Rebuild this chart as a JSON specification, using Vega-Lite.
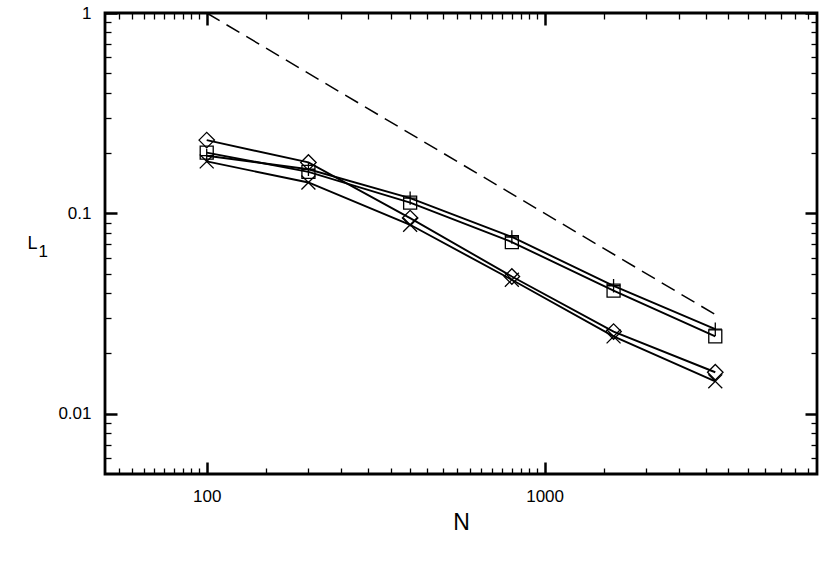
{
  "$schema": "https://vega.github.io/schema/vega-lite/v6.json",
  "width": 712,
  "height": 461,
  "autosize": {"type": "none"},
  "padding": {"left": 105, "top": 13, "right": 13, "bottom": 106},
  "background": "white",
  "config": {
    "view": {"stroke": "black", "strokeWidth": 2.8},
    "font": "Liberation Sans",
    "axis": {"grid": false, "domain": false, "tickColor": "black", "labelColor": "black", "titleColor": "black", "labelFont": "Liberation Sans", "titleFont": "Liberation Sans", "titleFontWeight": "normal", "labelOverlap": false, "labelFlush": false, "labelBound": false}
  },
  "datasets": {
    "ref": [
      {"N": 100, "L1": 1},
      {"N": 3200, "L1": 0.03125}
    ],
    "series": [
      {"series": "A", "N": 100, "L1": 0.232},
      {"series": "A", "N": 200, "L1": 0.1795},
      {"series": "A", "N": 400, "L1": 0.0947},
      {"series": "A", "N": 800, "L1": 0.0484},
      {"series": "A", "N": 1600, "L1": 0.0257},
      {"series": "A", "N": 3200, "L1": 0.0161},
      {"series": "B", "N": 100, "L1": 0.201},
      {"series": "B", "N": 200, "L1": 0.161},
      {"series": "B", "N": 400, "L1": 0.1132},
      {"series": "B", "N": 800, "L1": 0.0719},
      {"series": "B", "N": 1600, "L1": 0.0411},
      {"series": "B", "N": 3200, "L1": 0.0243},
      {"series": "C", "N": 100, "L1": 0.194},
      {"series": "C", "N": 200, "L1": 0.166},
      {"series": "C", "N": 400, "L1": 0.1192},
      {"series": "C", "N": 800, "L1": 0.0762},
      {"series": "C", "N": 1600, "L1": 0.0435},
      {"series": "C", "N": 3200, "L1": 0.0264},
      {"series": "D", "N": 100, "L1": 0.1816},
      {"series": "D", "N": 200, "L1": 0.1426},
      {"series": "D", "N": 400, "L1": 0.0877},
      {"series": "D", "N": 800, "L1": 0.0466},
      {"series": "D", "N": 1600, "L1": 0.0243},
      {"series": "D", "N": 3200, "L1": 0.0145}
    ]
  },
  "layer": [
    {
      "data": {"name": "ref"},
      "mark": {"type": "line", "color": "black", "strokeWidth": 1.5, "strokeDash": [15, 8]},
      "encoding": {
        "x": {
          "field": "N", "type": "quantitative",
          "scale": {"type": "log", "domain": [50, 6400], "nice": false},
          "axis": {
            "orient": "bottom",
            "title": "N", "titleFontSize": 23, "titleY": 55, "titleBaseline": "alphabetic",
            "values": [55, 60, 65, 70, 75, 80, 85, 90, 95, 100, 150, 200, 250, 300, 350, 400, 450, 500, 550, 600, 650, 700, 750, 800, 850, 900, 950, 1000, 1500, 2000, 2500, 3000, 3500, 4000, 4500, 5000, 5500, 6000],
            "labelExpr": "datum.value == 100 ? '100' : datum.value == 1000 ? '1000' : ''",
            "labelFontSize": 17, "labelPadding": 26,
            "tickSize": {"condition": {"test": "datum.value == 100 || datum.value == 1000", "value": -12}, "value": -6},
            "tickWidth": {"condition": {"test": "datum.value == 100 || datum.value == 1000", "value": 2.5}, "value": 1.3}
          }
        },
        "y": {
          "field": "L1", "type": "quantitative",
          "scale": {"type": "log", "domain": [0.005, 1], "nice": false},
          "axis": {
            "orient": "left",
            "title": "L", "titleAngle": 0, "titleFontSize": 18,
            "titleX": -78, "titleY": 235.3, "titleAlign": "left", "titleBaseline": "alphabetic",
            "values": [0.006, 0.007, 0.008, 0.009, 0.01, 0.02, 0.03, 0.04, 0.05, 0.06, 0.07, 0.08, 0.09, 0.1, 0.2, 0.3, 0.4, 0.5, 0.6, 0.7, 0.8, 0.9, 1],
            "labelExpr": "datum.value == 1 ? '1' : datum.value == 0.1 ? '0.1' : datum.value == 0.01 ? '0.01' : ''",
            "labelFontSize": 17, "labelPadding": 26,
            "tickSize": {"condition": {"test": "datum.value == 1 || datum.value == 0.1 || datum.value == 0.01", "value": -12}, "value": -6},
            "tickWidth": {"condition": {"test": "datum.value == 1 || datum.value == 0.1 || datum.value == 0.01", "value": 2.5}, "value": 1.3}
          }
        }
      }
    },
    {
      "data": {"name": "series"},
      "mark": {"type": "line", "color": "black", "strokeWidth": 1.9},
      "encoding": {
        "x": {"field": "N", "type": "quantitative", "scale": {"type": "log", "domain": [50, 6400], "nice": false}, "axis": null},
        "y": {
          "field": "L1", "type": "quantitative",
          "scale": {"type": "log", "domain": [0.005, 1], "nice": false},
          "axis": {
            "orient": "left", "ticks": false, "labels": false, "domain": false,
            "title": "1", "titleAngle": 0, "titleFontSize": 17,
            "titleX": -67, "titleY": 243.7, "titleAlign": "left", "titleBaseline": "alphabetic"
          }
        },
        "detail": {"field": "series", "type": "nominal"}
      }
    },
    {
      "data": {"name": "series"},
      "mark": {"type": "point", "filled": false, "color": "black", "strokeWidth": 1.3, "opacity": 1, "size": 240},
      "encoding": {
        "x": {
          "field": "N", "type": "quantitative",
          "scale": {"type": "log", "domain": [50, 6400], "nice": false},
          "axis": {
            "orient": "top", "title": null, "labels": false,
            "values": [55, 60, 65, 70, 75, 80, 85, 90, 95, 100, 150, 200, 250, 300, 350, 400, 450, 500, 550, 600, 650, 700, 750, 800, 850, 900, 950, 1000, 1500, 2000, 2500, 3000, 3500, 4000, 4500, 5000, 5500, 6000],
            "tickSize": {"condition": {"test": "datum.value == 100 || datum.value == 1000", "value": -12}, "value": -6},
            "tickWidth": {"condition": {"test": "datum.value == 100 || datum.value == 1000", "value": 2.5}, "value": 1.3}
          }
        },
        "y": {
          "field": "L1", "type": "quantitative",
          "scale": {"type": "log", "domain": [0.005, 1], "nice": false},
          "axis": {
            "orient": "right", "title": null, "labels": false,
            "values": [0.006, 0.007, 0.008, 0.009, 0.01, 0.02, 0.03, 0.04, 0.05, 0.06, 0.07, 0.08, 0.09, 0.1, 0.2, 0.3, 0.4, 0.5, 0.6, 0.7, 0.8, 0.9, 1],
            "tickSize": {"condition": {"test": "datum.value == 1 || datum.value == 0.1 || datum.value == 0.01", "value": -12}, "value": -6},
            "tickWidth": {"condition": {"test": "datum.value == 1 || datum.value == 0.1 || datum.value == 0.01", "value": 2.5}, "value": 1.3}
          }
        },
        "shape": {
          "field": "series", "type": "nominal", "legend": null,
          "scale": {
            "domain": ["A", "B", "C", "D"],
            "range": ["M-1,0L0,-1L1,0L0,1Z", "M-0.84,-0.84H0.84V0.84H-0.84Z", "M-0.86,0H0.86M0,-0.86V0.86", "M-0.9,-0.9L0.9,0.9M-0.9,0.9L0.9,-0.9"]
          }
        }
      }
    }
  ],
  "resolve": {"axis": {"x": "independent", "y": "independent"}}
}
